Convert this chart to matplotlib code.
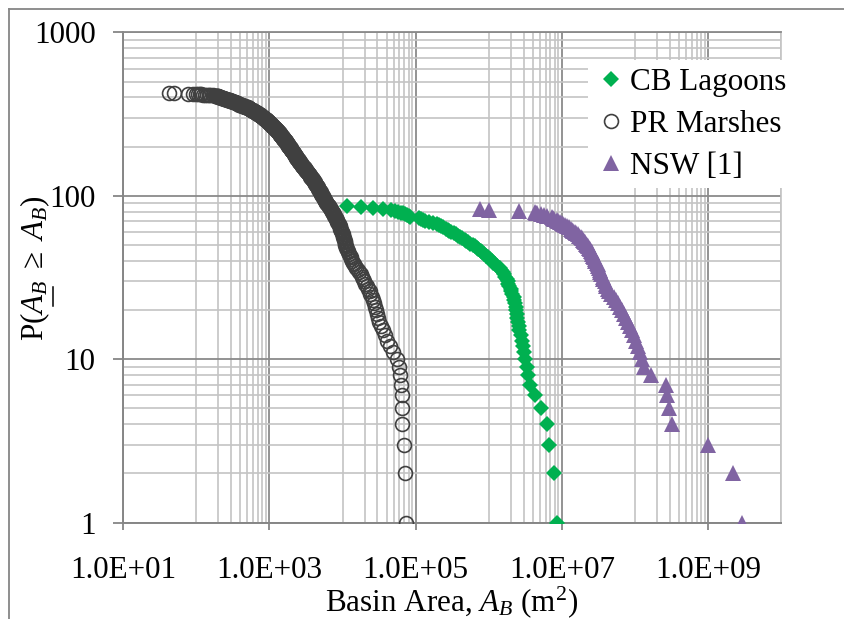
import numpy as np
import matplotlib
matplotlib.use("Agg")
import matplotlib.pyplot as plt
from matplotlib.lines import Line2D
from matplotlib.ticker import FixedLocator, FuncFormatter, NullFormatter, LogLocator

plt.rcParams['font.family'] = 'serif'
plt.rcParams['font.serif'] = ['Liberation Serif', 'DejaVu Serif']
plt.rcParams['mathtext.fontset'] = 'custom'
plt.rcParams['mathtext.rm'] = 'Liberation Serif'
plt.rcParams['mathtext.it'] = 'Liberation Serif:italic'
plt.rcParams['mathtext.bf'] = 'Liberation Serif:bold'

# log10 of basin area (m^2), largest basin first (rank 1 = P 1)
cb_log_area = [
    6.93, 6.90, 6.82, 6.80, 6.71, 6.63, 6.57, 6.54, 6.52, 6.50,
    6.48, 6.47, 6.45, 6.44, 6.42, 6.41, 6.40, 6.39, 6.39, 6.38,
    6.37, 6.36, 6.35, 6.34, 6.32, 6.31, 6.30, 6.28, 6.27, 6.26,
    6.25, 6.23, 6.21, 6.19, 6.17, 6.15, 6.12, 6.09, 6.06, 6.04,
    6.02, 5.99, 5.96, 5.94, 5.91, 5.89, 5.86, 5.84, 5.81, 5.78,
    5.75, 5.72, 5.69, 5.67, 5.64, 5.61, 5.58, 5.55, 5.52, 5.49,
    5.46, 5.44, 5.41, 5.38, 5.35, 5.32, 5.29, 5.24, 5.18, 5.13,
    5.10, 5.07, 5.04, 4.93, 4.91, 4.88, 4.86, 4.83, 4.80, 4.76,
    4.72, 4.66, 4.55, 4.42, 4.25, 4.06,
]

pr_log_area = [
    4.87, 4.86, 4.84, 4.82, 4.82, 4.81, 4.80, 4.79, 4.77, 4.74,
    4.69, 4.65, 4.61, 4.58, 4.55, 4.53, 4.50, 4.49, 4.47, 4.46,
    4.45, 4.43, 4.42, 4.40, 4.38, 4.37, 4.35, 4.33, 4.31, 4.30,
    4.28, 4.26, 4.25, 4.23, 4.21, 4.19, 4.17, 4.16, 4.14, 4.13,
    4.12, 4.11, 4.10, 4.09, 4.08, 4.07, 4.06, 4.05, 4.05, 4.04,
    4.04, 4.03, 4.03, 4.02, 4.02, 4.01, 4.00, 4.00, 3.99, 3.99,
    3.98, 3.98, 3.97, 3.97, 3.96, 3.95, 3.95, 3.94, 3.93, 3.93,
    3.92, 3.91, 3.91, 3.90, 3.89, 3.89, 3.88, 3.87, 3.87, 3.86,
    3.85, 3.84, 3.84, 3.83, 3.82, 3.82, 3.81, 3.80, 3.79, 3.78,
    3.78, 3.77, 3.76, 3.76, 3.75, 3.75, 3.74, 3.73, 3.73, 3.72,
    3.72, 3.71, 3.71, 3.70, 3.70, 3.69, 3.69, 3.68, 3.68, 3.67,
    3.67, 3.66, 3.66, 3.65, 3.65, 3.64, 3.64, 3.63, 3.63, 3.62,
    3.62, 3.61, 3.61, 3.60, 3.59, 3.59, 3.58, 3.58, 3.57, 3.57,
    3.56, 3.56, 3.55, 3.55, 3.54, 3.54, 3.53, 3.53, 3.52, 3.51,
    3.51, 3.50, 3.50, 3.49, 3.49, 3.48, 3.48, 3.47, 3.47, 3.46,
    3.46, 3.45, 3.45, 3.44, 3.44, 3.43, 3.43, 3.43, 3.42, 3.42,
    3.41, 3.41, 3.40, 3.40, 3.40, 3.39, 3.39, 3.38, 3.38, 3.38,
    3.37, 3.37, 3.36, 3.36, 3.36, 3.35, 3.35, 3.35, 3.34, 3.34,
    3.34, 3.33, 3.33, 3.32, 3.32, 3.32, 3.31, 3.31, 3.31, 3.30,
    3.30, 3.30, 3.29, 3.29, 3.29, 3.28, 3.28, 3.28, 3.27, 3.27,
    3.27, 3.26, 3.26, 3.26, 3.25, 3.25, 3.25, 3.24, 3.24, 3.24,
    3.23, 3.23, 3.23, 3.22, 3.22, 3.22, 3.21, 3.21, 3.21, 3.20,
    3.20, 3.20, 3.19, 3.19, 3.19, 3.18, 3.18, 3.18, 3.17, 3.17,
    3.17, 3.16, 3.16, 3.16, 3.15, 3.15, 3.15, 3.15, 3.14, 3.14,
    3.14, 3.13, 3.13, 3.13, 3.12, 3.12, 3.12, 3.12, 3.11, 3.11,
    3.10, 3.10, 3.10, 3.09, 3.09, 3.08, 3.08, 3.08, 3.07, 3.07,
    3.06, 3.06, 3.06, 3.05, 3.05, 3.05, 3.04, 3.04, 3.04, 3.03,
    3.03, 3.03, 3.02, 3.02, 3.01, 3.01, 3.01, 3.00, 3.00, 3.00,
    2.99, 2.99, 2.99, 2.98, 2.98, 2.97, 2.97, 2.97, 2.96, 2.96,
    2.95, 2.95, 2.95, 2.94, 2.94, 2.93, 2.93, 2.93, 2.92, 2.92,
    2.92, 2.91, 2.91, 2.90, 2.90, 2.89, 2.89, 2.89, 2.88, 2.88,
    2.87, 2.87, 2.87, 2.86, 2.86, 2.85, 2.85, 2.84, 2.84, 2.83,
    2.83, 2.82, 2.82, 2.81, 2.81, 2.80, 2.80, 2.79, 2.79, 2.78,
    2.78, 2.77, 2.77, 2.76, 2.76, 2.75, 2.75, 2.74, 2.74, 2.73,
    2.73, 2.72, 2.72, 2.71, 2.71, 2.70, 2.70, 2.69, 2.68, 2.67,
    2.67, 2.66, 2.65, 2.64, 2.64, 2.63, 2.62, 2.62, 2.61, 2.60,
    2.59, 2.59, 2.58, 2.58, 2.57, 2.57, 2.56, 2.56, 2.55, 2.55,
    2.54, 2.54, 2.53, 2.53, 2.52, 2.51, 2.50, 2.49, 2.49, 2.48,
    2.47, 2.46, 2.46, 2.45, 2.44, 2.43, 2.43, 2.42, 2.41, 2.40,
    2.39, 2.39, 2.38, 2.37, 2.37, 2.36, 2.35, 2.35, 2.34, 2.33,
    2.32, 2.32, 2.31, 2.30, 2.30, 2.29, 2.28, 2.28, 2.27, 2.26,
    2.23, 2.19, 2.17, 2.14, 2.12, 2.09, 2.07, 2.05, 2.02, 1.99,
    1.96, 1.89, 1.69, 1.62,
]

nsw_log_area = [
    9.46, 9.35, 9.00, 8.51, 8.47, 8.44, 8.43, 8.22, 8.13, 8.10,
    8.07, 8.04, 8.02, 7.99, 7.96, 7.94, 7.91, 7.88, 7.85, 7.83,
    7.80, 7.77, 7.74, 7.71, 7.68, 7.65, 7.63, 7.61, 7.60, 7.59,
    7.57, 7.56, 7.54, 7.53, 7.52, 7.51, 7.50, 7.49, 7.48, 7.46,
    7.45, 7.44, 7.43, 7.42, 7.42, 7.40, 7.39, 7.37, 7.36, 7.35,
    7.33, 7.32, 7.30, 7.29, 7.28, 7.26, 7.24, 7.22, 7.20, 7.18,
    7.16, 7.14, 7.12, 7.10, 7.07, 7.05, 7.02, 7.00, 6.98, 6.95,
    6.93, 6.90, 6.88, 6.86, 6.80, 6.76, 6.72, 6.66, 6.65, 6.64,
    6.42, 6.01, 5.88,
]

series_names = ['CB Lagoons', 'PR Marshes', 'NSW [1]']
x_tick_values = [1e1, 1e3, 1e5, 1e7, 1e9]
y_tick_values = [1, 10, 100, 1000]


def exceedance(log_area):
    # sort largest first; count of basins with area >= A_B is the rank
    area = np.sort(10.0 ** np.asarray(log_area))[::-1]
    count = np.arange(1, len(area) + 1)
    return area, count


FS = 22.4
MAJOR_GRID = '#8a8a8a'
MINOR_GRID = '#c4c4c4'
AXIS_GRAY = '#868686'
W, H = 844, 619

fig = plt.figure(figsize=(W / 100, H / 100), dpi=100)
ax = fig.add_axes([123.3 / W, 1 - 522.7 / H, 657.7 / W, 490.4 / H])

a, p = exceedance(cb_log_area)
ax.plot(a, p, ls='none', marker='D', ms=8.0, mew=0, color='#00b050',
        label=series_names[0], zorder=3)
a, p = exceedance(pr_log_area)
ax.plot(a, p, ls='none', marker='o', ms=10, mew=1.2, mfc='none',
        mec='#404040', label=series_names[1], zorder=3)
a, p = exceedance(nsw_log_area)
ax.plot(a, p, ls='none', marker='^', ms=12, mew=0, color='#8064a2',
        label=series_names[2], zorder=3)

ax.set_xscale('log')
ax.set_yscale('log')
ax.set_xlim(10, 1e10)
ax.set_ylim(1, 1000)

# base-100 style x axis: labelled every second decade, minor lines at 10*k*major
minor_x = [10 ** (2 * k + 1) * 10 * j for k in range(5) for j in range(1, 10)]
ax.xaxis.set_major_locator(FixedLocator(x_tick_values))
ax.xaxis.set_minor_locator(FixedLocator([v for v in minor_x if v <= 1e10]))
ax.xaxis.set_major_formatter(FuncFormatter(lambda v, _: f'{v:.1E}'))
ax.xaxis.set_minor_formatter(NullFormatter())

ax.yaxis.set_major_locator(FixedLocator(y_tick_values))
ax.yaxis.set_minor_locator(LogLocator(base=10, subs=np.arange(2, 10)))
ax.yaxis.set_major_formatter(FuncFormatter(lambda v, _: f'{v:g}'))
ax.yaxis.set_minor_formatter(NullFormatter())

ax.set_axisbelow(True)
ax.grid(which='minor', color=MINOR_GRID, lw=1.2)
ax.grid(which='major', color=MAJOR_GRID, lw=1.3)

ax.tick_params(axis='x', which='major', length=5, width=1.3, color=AXIS_GRAY,
               pad=19, labelsize=FS)
ax.tick_params(axis='y', which='major', length=7, width=1.3, color=AXIS_GRAY,
               pad=13, labelsize=FS)
ax.tick_params(which='minor', length=0)

for side in ('left', 'bottom'):
    ax.spines[side].set_color(AXIS_GRAY)
    ax.spines[side].set_linewidth(1.4)
ax.spines['top'].set_color(MAJOR_GRID)
ax.spines['top'].set_linewidth(1.3)
ax.spines['right'].set_color(MINOR_GRID)
ax.spines['right'].set_linewidth(1.2)

leg = ax.legend(loc='upper right', bbox_to_anchor=(1.02, 0.944), borderaxespad=0,
                fontsize=FS, frameon=True, fancybox=False, framealpha=1,
                facecolor='white', edgecolor='none', handlelength=1.0,
                handletextpad=0.1, labelspacing=0.42, borderpad=0.25,
                numpoints=1)
leg.set_zorder(5)

# axis titles
fig.text(452 / W, 1 - 611 / H, r'Basin Area, $A_B$ (m$^2$)',
         ha='center', va='baseline', fontsize=FS)
fig.text(35 / W, 1 - 268 / H, r'P$(A_B\ \geq\ A_B)$', rotation=90,
         ha='center', va='center', fontsize=FS)
# underline below the first A_B of the rotated label
fig.add_artist(Line2D([53 / W] * 2, [1 - 287 / H, 1 - 306 / H],
                      transform=fig.transFigure, color='black', lw=1.1))

# chart area border
fig.add_artist(Line2D([8.5 / W, 1.0], [1 - 8.5 / H] * 2,
                      transform=fig.transFigure, color=AXIS_GRAY, lw=1.3))
fig.add_artist(Line2D([8.5 / W] * 2, [0.0, 1 - 8.5 / H],
                      transform=fig.transFigure, color=AXIS_GRAY, lw=1.3))

fig.savefig('out.png', dpi=100)
